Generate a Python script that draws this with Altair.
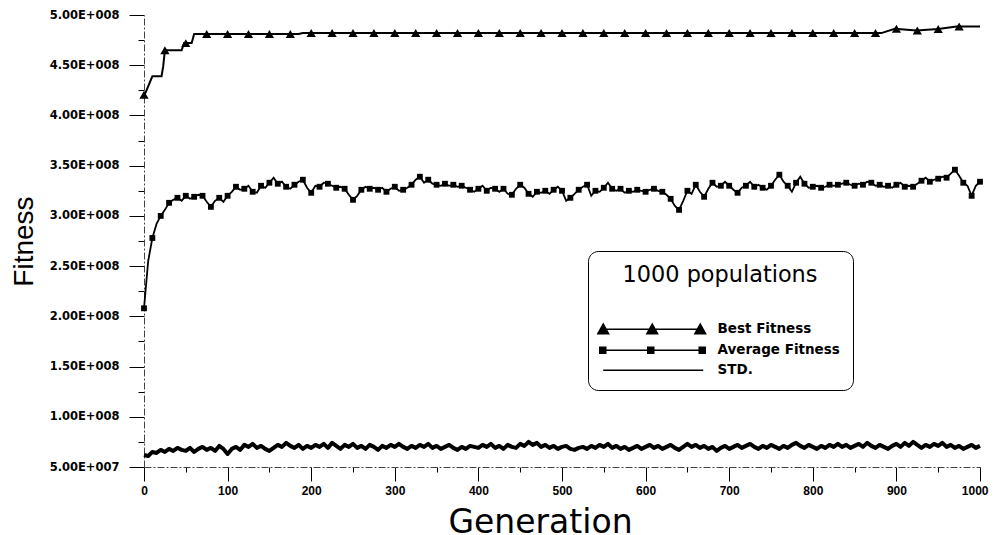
import altair as alt
import pandas as pd

# ---------------- data ----------------
series_names = ["Best Fitness", "Average Fitness", "STD."]

# Best fitness: change points of the (mostly flat) curve, values in 1e8
best_gen = [0, 2, 10, 21, 23, 25, 45, 48, 57, 60, 185, 190, 882, 898, 924, 950, 972, 1000]
best_val = [4.205, 4.23, 4.39, 4.39, 4.49, 4.65, 4.65, 4.72, 4.72, 4.81, 4.81, 4.82, 4.82, 4.862, 4.845, 4.86, 4.885, 4.885]

# Triangle markers on the best curve, every 25 generations (0..975), values in 1e8
best_mark_gen = list(range(0, 976, 25))
best_mark_val = [4.205, 4.65, 4.72, 4.81, 4.81, 4.81, 4.81, 4.81,
                 4.82, 4.82, 4.82, 4.82, 4.82, 4.82, 4.82, 4.82,
                 4.82, 4.82, 4.82, 4.82, 4.82, 4.82, 4.82, 4.82,
                 4.82, 4.82, 4.82, 4.82, 4.82, 4.82, 4.82, 4.82,
                 4.82, 4.82, 4.82, 4.82, 4.862, 4.845, 4.86, 4.885]

# Average fitness every 5 generations (0..1000), values in 1e8
avg_gen = list(range(0, 1001, 5))
avg_val = [
    2.08, 2.55, 2.78, 2.92, 3.00, 3.06, 3.13, 3.16, 3.18, 3.15, 3.20, 3.17, 3.19, 3.21, 3.20, 3.14, 3.09, 3.15, 3.18, 3.14, 3.20,
    3.24, 3.29, 3.26, 3.27, 3.30, 3.24, 3.23, 3.30, 3.28, 3.33, 3.38, 3.32, 3.34, 3.29, 3.27, 3.31, 3.34, 3.36, 3.28, 3.23,
    3.30, 3.29, 3.33, 3.32, 3.30, 3.28, 3.29, 3.27, 3.21, 3.16, 3.20, 3.26, 3.29, 3.27, 3.28, 3.26, 3.28, 3.24, 3.27, 3.29,
    3.25, 3.26, 3.28, 3.31, 3.36, 3.39, 3.33, 3.36, 3.32, 3.31, 3.30, 3.32, 3.30, 3.31, 3.29, 3.30, 3.28, 3.26, 3.24, 3.27,
    3.30, 3.25, 3.28, 3.27, 3.24, 3.27, 3.22, 3.21, 3.27, 3.31, 3.28, 3.22, 3.19, 3.24, 3.23, 3.25, 3.22, 3.26, 3.29, 3.25,
    3.15, 3.18, 3.22, 3.26, 3.29, 3.31, 3.20, 3.25, 3.24, 3.28, 3.33, 3.27, 3.25, 3.27, 3.23, 3.25, 3.24, 3.26, 3.25, 3.24,
    3.26, 3.27, 3.25, 3.24, 3.21, 3.17, 3.10, 3.06, 3.15, 3.25, 3.22, 3.31, 3.24, 3.19, 3.27, 3.33, 3.29, 3.30, 3.34, 3.30,
    3.26, 3.23, 3.28, 3.30, 3.34, 3.29, 3.31, 3.28, 3.26, 3.30, 3.36, 3.41, 3.34, 3.30, 3.24, 3.33, 3.39, 3.32, 3.28, 3.29,
    3.30, 3.28, 3.29, 3.31, 3.30, 3.31, 3.32, 3.33, 3.31, 3.30, 3.32, 3.31, 3.34, 3.33, 3.30, 3.31, 3.29, 3.30, 3.28, 3.31,
    3.33, 3.29, 3.30, 3.29, 3.32, 3.35, 3.38, 3.34, 3.36, 3.37, 3.39, 3.38, 3.42, 3.46, 3.40, 3.33, 3.30, 3.20, 3.30, 3.34,
]

# STD every 5 generations (0..1000), values in 1e7
std_gen = list(range(0, 1001, 5))
std_val = [
    6.2, 6.1, 6.5, 6.4, 6.7, 6.5, 6.8, 6.6, 6.9, 6.7, 6.6, 6.9, 6.5, 6.8, 7.0, 6.7, 6.9, 6.6, 7.1, 6.8, 6.3,
    6.8, 7.0, 6.7, 7.2, 7.0, 7.3, 6.9, 7.1, 6.8, 6.6, 6.9, 7.2, 7.0, 7.4, 7.1, 6.9, 7.2, 6.8, 7.1, 6.9,
    7.2, 7.0, 7.3, 6.9, 7.4, 7.1, 6.8, 7.2, 7.0, 7.3, 6.9, 7.1, 6.8, 7.2, 7.0, 6.7, 7.1, 6.9, 7.2, 7.0,
    7.3, 7.0, 6.8, 7.1, 6.9, 7.2, 7.0, 7.3, 6.9, 7.1, 6.8, 7.0, 7.2, 6.9, 6.7, 7.0, 6.8, 7.1, 7.0, 6.9,
    7.2, 7.0, 7.3, 6.9, 7.1, 6.8, 7.2, 7.0, 6.9, 7.3, 7.1, 7.5, 7.2, 7.4, 7.0, 7.2, 6.9, 7.1, 6.8, 7.0,
    7.1, 6.8, 6.7, 6.9, 7.0, 6.8, 7.1, 6.9, 7.2, 7.0, 7.3, 6.9, 7.1, 6.8, 7.0, 6.7, 6.9, 7.1, 6.8, 7.0,
    7.2, 6.9, 7.1, 6.8, 7.0, 7.2, 6.9, 6.7, 7.0, 7.3, 7.0, 7.2, 6.9, 7.1, 6.8, 7.0, 6.6, 6.9, 7.1, 6.8,
    7.0, 7.2, 6.9, 7.1, 7.3, 7.0, 6.8, 7.1, 6.9, 7.2, 7.0, 6.8, 7.1, 6.9, 7.2, 7.4, 7.1, 6.9, 7.2, 7.0,
    6.8, 7.1, 6.9, 7.2, 7.0, 7.3, 7.0, 7.2, 6.9, 7.1, 7.3, 7.0, 7.4, 7.1, 6.9, 7.2, 7.0, 6.8, 7.1, 7.3,
    7.0, 7.4, 7.1, 7.5, 7.2, 6.9, 7.2, 7.0, 7.3, 7.1, 7.4, 7.0, 7.2, 6.9, 7.1, 6.8, 7.0, 7.2, 6.9, 7.1,
]

x_tick_values = list(range(0, 1001, 50))
y_tick_values = list(range(50000000, 500000001, 25000000))

# ---------------- tables ----------------
best_df = pd.DataFrame({"gen": best_gen, "value": [v * 1e8 for v in best_val], "series": "Best Fitness"})
avg_df = pd.DataFrame({"gen": avg_gen, "value": [v * 1e8 for v in avg_val], "series": "Average Fitness"})
std_df = pd.DataFrame({"gen": std_gen, "value": [v * 1e7 for v in std_val], "series": "STD."})
best_marks_df = pd.DataFrame({"gen": best_mark_gen, "value": [v * 1e8 for v in best_mark_val]})

# ---------------- axes ----------------
x_axis = alt.Axis(
    values=x_tick_values,
    labelExpr="datum.value % 100 === 0 ? format(datum.value, 'd') : ''",
    tickSize={"condition": {"test": "datum.value % 100 === 0", "value": 14}, "value": 5},
    tickColor="black", tickWidth=1,
    domainColor="#444", domainWidth=1, domainDash=[7, 2, 2, 2],
    labelFont="Liberation Sans", labelFontSize=12, labelFontWeight="bold", labelColor="black",
    labelAlign={"condition": {"test": "datum.value === 1000", "value": "right"}, "value": "center"},
    labelOffset={"condition": {"test": "datum.value === 1000", "value": 8}, "value": 0},
    labelPadding=4, labelFlush=False, labelOverlap=False,
    grid=False,
    title="Generation", titleFont="DejaVu Sans", titleFontSize=33, titleFontWeight="normal",
    titleColor="black", titleX=396, titleY=65, titleAlign="center", titleBaseline="alphabetic",
)
y_axis = alt.Axis(
    values=y_tick_values,
    labelExpr="datum.value % 50000000 === 0 ? (datum.value < 100000000 ? format(datum.value / 1e7, '.2f') + 'E+007' : format(datum.value / 1e8, '.2f') + 'E+008') : ''",
    tickSize={"condition": {"test": "datum.value % 50000000 === 0", "value": 15}, "value": 6},
    tickColor="black", tickWidth=1,
    domainColor="#444", domainWidth=1, domainDash=[7, 2, 2, 2],
    labelFont="DejaVu Sans", labelFontSize=11.5, labelFontWeight="bold", labelColor="black",
    labelPadding=10, labelFlush=False, labelOverlap=False,
    grid=False,
    title="Fitness", titleFont="Liberation Sans", titleFontSize=28, titleFontWeight="normal",
    titleColor="black", titleAngle=270, titleX=-112, titleY=226, titleAlign="center",
    titleBaseline="alphabetic",
)

x_enc = alt.X("gen:Q", scale=alt.Scale(domain=[0, 1000], nice=False, zero=False), axis=x_axis)
y_enc = alt.Y("value:Q", scale=alt.Scale(domain=[50000000, 500000000], nice=False, zero=False), axis=y_axis)

# ---------------- legend with line+marker glyphs ----------------
def tri(x):
    return f"M{x - 1.07},0.9L{x},-1L{x + 1.07},0.9Z"

def sq(x):
    return f"M{x - 0.6},-0.6L{x + 0.6},-0.6L{x + 0.6},0.6L{x - 0.6},0.6Z"

best_path = "M-1.5,0L19.1,0" + tri(-0.9) + tri(8.9) + tri(18.5)
avg_path = "M-1.5,0L19.1,0" + sq(-1.0) + sq(8.6) + sq(18.9)
std_path = "M-0.9,0L19.1,0"

shape_signal = (
    f"datum.value === 'Best Fitness' ? '{best_path}' : "
    f"(datum.value === 'Average Fitness' ? '{avg_path}' : '{std_path}')"
)

legend = alt.Legend(
    orient="none", legendX=444, legendY=236,
    title="1000 populations", titleFont="DejaVu Sans", titleFontSize=22.4, titleFontWeight="normal",
    titleColor="black", titleAnchor="middle", titleAlign="center", titlePadding=36, titleLimit=400,
    labelFont="DejaVu Sans", labelFontSize=13.5, labelFontWeight="bold", labelColor="black",
    labelOffset=103, labelLimit=400,
    symbolType=alt.ExprRef(expr=shape_signal),
    symbolSize=100, symbolStrokeWidth=1.5, symbolFillColor="black", symbolStrokeColor="black",
    symbolOpacity=1,
    rowPadding=5, padding=13, strokeColor="black", cornerRadius=10, fillColor="white",
)

color_enc = alt.Color(
    "series:N",
    scale=alt.Scale(domain=series_names, range=["black", "black", "black"]),
    legend=legend,
)

std_line = alt.Chart(std_df).mark_line(strokeWidth=4, strokeJoin="round").encode(
    x=x_enc, y=y_enc, color=color_enc
)
avg_line = alt.Chart(avg_df).mark_line(strokeWidth=1.8).encode(
    x=x_enc, y=y_enc, color=color_enc
)
best_line = alt.Chart(best_df).mark_line(strokeWidth=2).encode(
    x=x_enc, y=y_enc, color=color_enc
)

best_marks = alt.Chart(best_marks_df).mark_point(
    shape="triangle-up", filled=True, size=85, color="black", opacity=1
).encode(x=x_enc, y=y_enc)

avg_marks = alt.Chart(avg_df).transform_filter(
    "datum.gen % 10 === 0"
).mark_point(shape="square", filled=True, size=34, color="black", opacity=1).encode(x=x_enc, y=y_enc)

chart = alt.layer(best_line, avg_line, std_line, best_marks, avg_marks).properties(
    width=836, height=452,
    autosize=alt.AutoSizeParams(type="none"),
    padding={"left": 136, "top": 7, "right": 9, "bottom": 66},
    background="white",
).configure_view(stroke=None)

chart.save("out.html", embed_options={"renderer": "svg", "actions": False})
